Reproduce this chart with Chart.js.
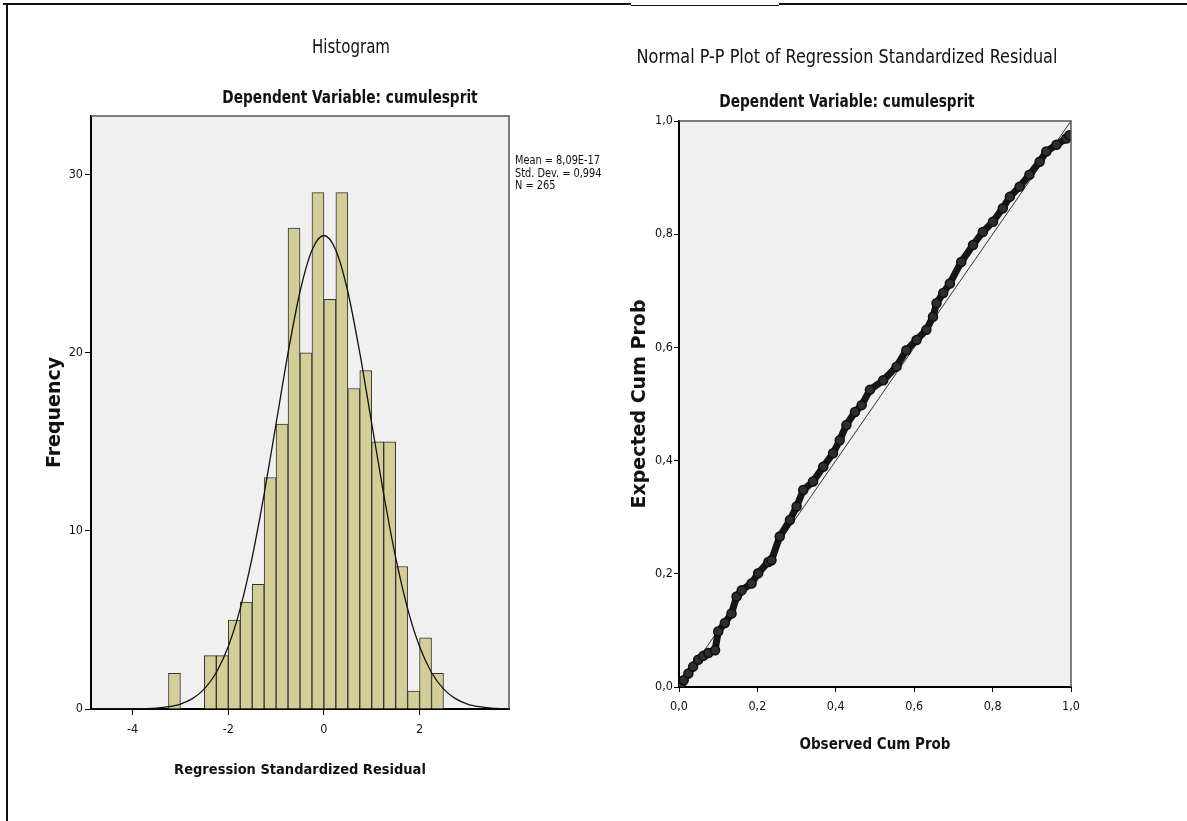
<!DOCTYPE html>
<html>
<head>
<meta charset="utf-8">
<script src="https://cdn.jsdelivr.net/npm/chart.js@4.4.1/dist/chart.umd.min.js"></script>
<style>
html, body { margin: 0; padding: 0; background: #fff; }
body { width: 1187px; height: 821px; position: relative; overflow: hidden; }
#histWrap { position: absolute; left: 0; top: 0; width: 620px; height: 821px; }
#ppWrap { position: absolute; left: 600px; top: 0; width: 587px; height: 821px; }
.rule { position: absolute; background: #111; }
</style>
</head>
<body>
<div class="rule" style="left:6px;top:3px;width:2px;height:818px;"></div>
<div class="rule" style="left:3px;top:3px;width:628px;height:2px;"></div>
<div class="rule" style="left:631px;top:5px;width:148px;height:1px;"></div>
<div class="rule" style="left:779px;top:3px;width:408px;height:2px;"></div>
<div id="histWrap"><canvas id="histChart"></canvas></div>
<div id="ppWrap"><canvas id="ppChart"></canvas></div>
<script>
// Histogram: bin centres (bin width 0.25) and counts
const histCenters = [-3.125, -2.375, -2.125, -1.875, -1.625, -1.375, -1.125, -0.875, -0.625, -0.375, -0.125,
                     0.125, 0.375, 0.625, 0.875, 1.125, 1.375, 1.625, 1.875, 2.125, 2.375];
const histCounts = [2, 3, 3, 5, 6, 7, 13, 16, 27, 20, 29, 23, 29, 18, 19, 15, 15, 8, 1, 4, 2];

// Normal curve
const curveX = [-4.87, -4.5, -4.25, -4, -3.75, -3.5, -3.25, -3, -2.75, -2.5, -2.25, -2, -1.75, -1.5, -1.25, -1, -0.75, -0.5, -0.25,
                0, 0.25, 0.5, 0.75, 1, 1.25, 1.5, 1.75, 2, 2.25, 2.5, 2.75, 3, 3.25, 3.5, 3.75, 3.87];
const curveY = [0, 0, 0, 0.01, 0.02, 0.05, 0.13, 0.28, 0.58, 1.13, 2.05, 3.51, 5.64, 8.51, 12.06, 16.03, 20.0, 23.43, 25.76,
                26.59, 25.76, 23.43, 20.0, 16.03, 12.06, 8.51, 5.64, 3.51, 2.05, 1.13, 0.58, 0.28, 0.13, 0.05, 0.02, 0.01];

const histXTicks = [-4, -2, 0, 2];
const histYTicks = [0, 10, 20, 30];
const histStats = ['Mean = 8,09E-17', 'Std. Dev. = 0,994', 'N = 265'];

// P-P plot: observed vs expected cumulative probability
const ppObserved = [0.004, 0.012, 0.024, 0.036, 0.049, 0.062, 0.075, 0.092, 0.100, 0.117,
                    0.134, 0.147, 0.160, 0.185, 0.202, 0.228, 0.236, 0.257, 0.283, 0.300,
                    0.317, 0.342, 0.368, 0.393, 0.410, 0.427, 0.449, 0.466, 0.487, 0.521,
                    0.555, 0.580, 0.606, 0.631, 0.648, 0.657, 0.674, 0.691, 0.720, 0.750,
                    0.775, 0.801, 0.826, 0.844, 0.869, 0.894, 0.920, 0.937, 0.963, 0.988, 0.996];
const ppExpected = [0.003, 0.012, 0.024, 0.036, 0.048, 0.055, 0.060, 0.065, 0.098, 0.113,
                    0.130, 0.160, 0.171, 0.183, 0.201, 0.221, 0.224, 0.266, 0.295, 0.319,
                    0.348, 0.363, 0.389, 0.413, 0.436, 0.463, 0.486, 0.498, 0.525, 0.542,
                    0.566, 0.595, 0.613, 0.631, 0.654, 0.678, 0.696, 0.713, 0.751, 0.781,
                    0.804, 0.822, 0.846, 0.866, 0.884, 0.905, 0.928, 0.946, 0.958, 0.969, 0.975];
const ppDiagonal = [0, 1];
const ppTicks = [0, 0.2, 0.4, 0.6, 0.8, 1.0];

const NARROW = "'Liberation Sans Narrow', 'DejaVu Sans Condensed', 'Arial Narrow', sans-serif";
const WIDE = "'DejaVu Sans', 'Liberation Sans', sans-serif";

// grey plot background, top/right frame and free-placed texts
const plotFrame = {
    id: 'plotFrame',
    beforeDraw(chart) {
        const { ctx, chartArea: a } = chart;
        ctx.save();
        ctx.fillStyle = '#f0f0f0';
        ctx.fillRect(a.left, a.top, a.width, a.height);
        ctx.restore();
    },
    afterDraw(chart, args, opts) {
        const { ctx, chartArea: a } = chart;
        ctx.save();
        ctx.strokeStyle = '#555';
        ctx.lineWidth = 1.5;
        ctx.beginPath();
        ctx.moveTo(a.left, a.top);
        ctx.lineTo(a.right, a.top);
        ctx.lineTo(a.right, a.bottom);
        ctx.stroke();
        ctx.fillStyle = '#111';
        (opts.texts || []).forEach(t => {
            ctx.save();
            ctx.translate(t.x, t.y);
            ctx.scale(t.sx || 1, 1);   // squeeze a bit, the source uses a narrow face
            ctx.font = t.font;
            ctx.textAlign = t.align || 'center';
            ctx.textBaseline = 'middle';
            ctx.fillText(t.text, 0, 0);
            ctx.restore();
        });
        ctx.restore();
    }
};

function fixedTicks(values) {
    return scale => { scale.ticks = values.map(v => ({ value: v })); };
}

const tickFont = { family: NARROW, size: 12.5 };
const axisTitleFont = { family: NARROW, size: 15, weight: 'bold' };

new Chart(document.getElementById('histChart'), {
    data: {
        datasets: [{
            type: 'line',
            data: curveX.map((x, i) => ({ x: x, y: curveY[i] })),
            borderColor: '#111',
            borderWidth: 1.3,
            pointRadius: 0,
            cubicInterpolationMode: 'monotone',
            order: 0
        }, {
            type: 'bar',
            data: histCenters.map((x, i) => ({ x: x, y: histCounts[i] })),
            backgroundColor: '#d3ce98',
            borderColor: '#333',
            borderWidth: 1,
            barPercentage: 1,
            categoryPercentage: 1,
            order: 1
        }]
    },
    options: {
        responsive: true,
        maintainAspectRatio: false,
        animation: false,
        layout: { padding: { left: 0, right: 111, top: 116, bottom: 0 } },
        plugins: {
            legend: { display: false },
            tooltip: { enabled: false },
            plotFrame: {
                texts: [
                    { text: 'Histogram', x: 351, y: 48, font: "19px " + NARROW, sx: 0.88 },
                    { text: 'Dependent Variable: cumulesprit', x: 350, y: 98, font: "bold 17.5px " + NARROW, sx: 0.87 },
                    { text: histStats[0], x: 515, y: 161, font: "12.5px " + NARROW, align: 'left', sx: 0.87 },
                    { text: histStats[1], x: 515, y: 173.5, font: "12.5px " + NARROW, align: 'left', sx: 0.87 },
                    { text: histStats[2], x: 515, y: 186, font: "12.5px " + NARROW, align: 'left', sx: 0.87 }
                ]
            }
        },
        scales: {
            x: {
                type: 'linear',
                offset: false,
                min: -4.87,
                max: 3.87,
                afterBuildTicks: fixedTicks(histXTicks),
                afterFit: s => { s.height = 112; },
                grid: { offset: false, drawOnChartArea: false, drawTicks: true, tickLength: 6, color: '#000' },
                border: { color: '#000', width: 2 },
                ticks: { font: tickFont, color: '#111', padding: 7, callback: v => String(v) },
                title: { display: true, text: 'Regression Standardized Residual', font: { family: NARROW, size: 14.5, weight: 'bold' }, color: '#111', padding: { bottom: 42 } }
            },
            y: {
                type: 'linear',
                min: 0,
                max: 33.3,
                afterBuildTicks: fixedTicks(histYTicks),
                afterFit: s => { s.width = 91; },
                grid: { drawOnChartArea: false, drawTicks: true, tickLength: 6, color: '#000' },
                border: { color: '#000', width: 2 },
                ticks: { font: tickFont, color: '#111', padding: 2 },
                title: { display: true, text: 'Frequency', font: { family: WIDE, size: 19, weight: 'bold' }, color: '#111', padding: { top: 44 } }
            }
        }
    },
    plugins: [plotFrame]
});

const commaLabel = v => v.toFixed(1).replace('.', ',');

new Chart(document.getElementById('ppChart'), {
    type: 'scatter',
    data: {
        datasets: [{
            data: ppObserved.map((x, i) => ({ x: x, y: ppExpected[i] })),
            showLine: true,
            borderColor: '#161616',
            borderWidth: 7,
            pointRadius: 4.5,
            pointBorderWidth: 1.5,
            pointBorderColor: '#0e0e0e',
            pointBackgroundColor: '#2e2e2e',
            order: 0
        }, {
            data: ppDiagonal.map(v => ({ x: v, y: v })),
            showLine: true,
            borderColor: '#333',
            borderWidth: 1,
            pointRadius: 0,
            order: 1
        }]
    },
    options: {
        responsive: true,
        maintainAspectRatio: false,
        animation: false,
        layout: { padding: { left: 0, right: 116, top: 121, bottom: 0 } },
        plugins: {
            legend: { display: false },
            tooltip: { enabled: false },
            plotFrame: {
                texts: [
                    { text: 'Normal P-P Plot of Regression Standardized Residual', x: 247, y: 58, font: "19px " + NARROW, sx: 0.94 },
                    { text: 'Dependent Variable: cumulesprit', x: 247, y: 102, font: "bold 17.5px " + NARROW, sx: 0.87 }
                ]
            }
        },
        scales: {
            x: {
                type: 'linear',
                min: 0,
                max: 1,
                afterBuildTicks: fixedTicks(ppTicks),
                afterFit: s => { s.height = 134; },
                grid: { drawOnChartArea: false, drawTicks: true, tickLength: 5, color: '#000' },
                border: { color: '#000', width: 2 },
                ticks: { font: tickFont, color: '#111', padding: 7, callback: commaLabel },
                title: { display: true, text: 'Observed Cum Prob', font: axisTitleFont, color: '#111', padding: { bottom: 67 } }
            },
            y: {
                type: 'linear',
                min: 0,
                max: 1,
                afterBuildTicks: fixedTicks(ppTicks),
                afterFit: s => { s.width = 79; },
                grid: { drawOnChartArea: false, drawTicks: true, tickLength: 5, color: '#000' },
                border: { color: '#000', width: 2 },
                ticks: { font: tickFont, color: '#111', padding: 1, callback: commaLabel },
                title: { display: true, text: 'Expected Cum Prob', font: { family: WIDE, size: 19, weight: 'bold' }, color: '#111', padding: { top: 29 } }
            }
        }
    },
    plugins: [plotFrame]
});
</script>
</body>
</html>
